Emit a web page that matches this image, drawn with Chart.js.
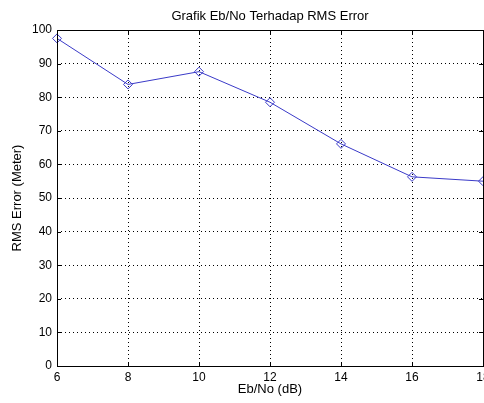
<!DOCTYPE html>
<html>
<head>
<meta charset="utf-8">
<script src="https://cdn.jsdelivr.net/npm/chart.js@4"></script>
<style>
  html, body { margin: 0; padding: 0; background: #fff; overflow: hidden; }
  #wrap { width: 484px; height: 403px; overflow: hidden; }
</style>
</head>
<body>
<div id="wrap"><canvas id="chart" width="500" height="403"></canvas></div>
<script>
// Data
const ebnoValues = [6, 8, 10, 12, 14, 16, 18];
const rmsErrorValues = [97.5, 83.8, 87.6, 78.5, 66.1, 56.3, 55.0];
const xTickValues = [6, 8, 10, 12, 14, 16, 18];
const yTickValues = [0, 10, 20, 30, 40, 50, 60, 70, 80, 90, 100];

const fontFamily = '"Liberation Sans", Arial, sans-serif';

// Box around the plot with MATLAB-style inward ticks
const frameAndTicks = {
  id: 'frameAndTicks',
  afterDraw(chart) {
    const { ctx, chartArea: area, scales } = chart;
    ctx.save();
    ctx.strokeStyle = '#000';
    ctx.lineWidth = 1;
    ctx.setLineDash([]);
    ctx.strokeRect(area.left + 0.5, area.top + 0.5, area.right - area.left, area.bottom - area.top);

    const len = 4;
    ctx.beginPath();
    xTickValues.forEach(v => {
      const x = Math.round(scales.x.getPixelForValue(v)) + 0.5;
      ctx.moveTo(x, area.bottom);
      ctx.lineTo(x, area.bottom - len);
      ctx.moveTo(x, area.top);
      ctx.lineTo(x, area.top + len);
    });
    yTickValues.forEach(v => {
      const y = Math.round(scales.y.getPixelForValue(v)) + 0.5;
      ctx.moveTo(area.left, y);
      ctx.lineTo(area.left + len, y);
      ctx.moveTo(area.right, y);
      ctx.lineTo(area.right - len, y);
    });
    ctx.stroke();
    ctx.restore();
  }
};

const ctx = document.getElementById('chart').getContext('2d');
new Chart(ctx, {
  type: 'line',
  data: {
    datasets: [{
      label: 'RMS Error',
      data: ebnoValues.map((x, i) => ({ x: x, y: rmsErrorValues[i] })),
      borderColor: '#3a3ac8',
      backgroundColor: 'rgba(0,0,0,0)',
      borderWidth: 1,
      pointStyle: 'rectRot',
      pointRadius: 4.5,
      pointBorderWidth: 1,
      pointBorderColor: '#3a3ac8',
      pointBackgroundColor: 'rgba(0,0,0,0)',
      tension: 0,
      clip: false
    }]
  },
  options: {
    responsive: false,
    animation: false,
    layout: {
      padding: { left: 0, right: 17, top: 0, bottom: 0 }
    },
    plugins: {
      legend: { display: false },
      tooltip: { enabled: false },
      title: {
        display: true,
        text: 'Grafik Eb/No Terhadap RMS Error',
        fullSize: false,
        color: '#000',
        font: { family: fontFamily, size: 13, weight: 'normal' },
        padding: { top: 9, bottom: 5.4 }
      }
    },
    scales: {
      x: {
        type: 'linear',
        min: 6,
        max: 18,
        afterBuildTicks: scale => {
          scale.ticks = xTickValues.map(v => ({ value: v }));
        },
        afterFit: scale => { scale.height = 37; },
        border: { display: false, dash: [1, 3] },
        grid: {
          color: '#000',
          lineWidth: 1,
          drawTicks: false
        },
        ticks: {
          color: '#000',
          padding: 4,
          maxRotation: 0,
          font: { family: fontFamily, size: 12 }
        },
        title: {
          display: true,
          text: 'Eb/No (dB)',
          color: '#000',
          font: { family: fontFamily, size: 13 },
          padding: { top: 0, bottom: 6 }
        }
      },
      y: {
        type: 'linear',
        min: 0,
        max: 100,
        afterBuildTicks: scale => {
          scale.ticks = yTickValues.map(v => ({ value: v }));
        },
        afterFit: scale => { scale.width = 57; },
        border: { display: false, dash: [1, 3] },
        grid: {
          color: '#000',
          lineWidth: 1,
          drawTicks: false
        },
        ticks: {
          color: '#000',
          padding: 5,
          font: { family: fontFamily, size: 12 }
        },
        title: {
          display: true,
          text: 'RMS Error (Meter)',
          color: '#000',
          font: { family: fontFamily, size: 13 },
          padding: { top: 10, bottom: 0 }
        }
      }
    }
  },
  plugins: [frameAndTicks]
});
</script>
</body>
</html>
